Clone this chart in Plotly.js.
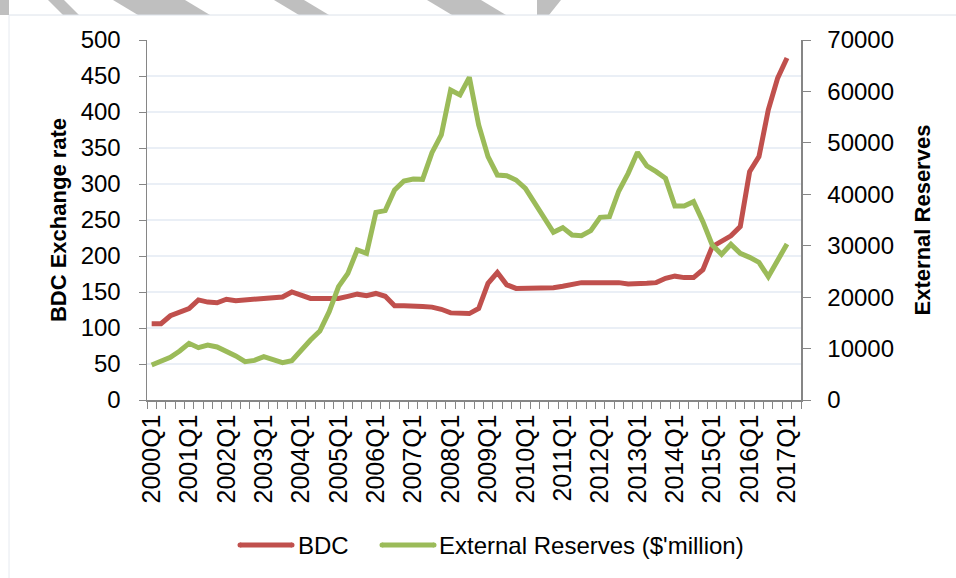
<!DOCTYPE html>
<html>
<head>
<meta charset="utf-8">
<script src="https://cdn.plot.ly/plotly-3.0.1.min.js"></script>
<style>html,body{margin:0;padding:0;background:#fff}#chart{width:956px;height:578px}</style>
</head>
<body>
<div id="chart"></div>
<script>
// ---- data ----
const quarters = [
  "2000Q1","2000Q2","2000Q3","2000Q4","2001Q1","2001Q2","2001Q3","2001Q4",
  "2002Q1","2002Q2","2002Q3","2002Q4","2003Q1","2003Q2","2003Q3","2003Q4",
  "2004Q1","2004Q2","2004Q3","2004Q4","2005Q1","2005Q2","2005Q3","2005Q4",
  "2006Q1","2006Q2","2006Q3","2006Q4","2007Q1","2007Q2","2007Q3","2007Q4",
  "2008Q1","2008Q2","2008Q3","2008Q4","2009Q1","2009Q2","2009Q3","2009Q4",
  "2010Q1","2010Q2","2010Q3","2010Q4","2011Q1","2011Q2","2011Q3","2011Q4",
  "2012Q1","2012Q2","2012Q3","2012Q4","2013Q1","2013Q2","2013Q3","2013Q4",
  "2014Q1","2014Q2","2014Q3","2014Q4","2015Q1","2015Q2","2015Q3","2015Q4",
  "2016Q1","2016Q2","2016Q3","2016Q4","2017Q1"
];
const bdcRate = [
  106,106,117,122,127,139,136,135,140,138,139,141,141,142,143,150,
  145,141,141,141,141,144,147,145,148,144,131,131,131,130,129,126,
  121,120,120,127,162,177,160,155,155,155,155,156,158,160,163,163,
  163,162,163,161,161,162,163,169,172,170,170,181,213,220,228,241,
  317,338,403,447,475
];
const externalReserves = [
  6810,7450,8300,9530,11020,10180,10690,10310,9530,8560,7450,7710,8430,7780,7260,7650,
  9850,11670,13420,17180,22040,24630,29170,28520,36490,36820,40830,42580,42970,42910,48090,51530,
  60280,59310,62740,53500,47320,43750,43620,42780,41160,38240,35320,32600,33510,32080,31950,32930,
  35520,35650,40640,44070,48160,45500,44400,43100,37720,37720,38570,34680,30140,28320,30270,28520,
  27740,26770,23980,27220,30330
];
const seriesNames = ["BDC", "External Reserves ($'million)"];
const seriesColors = ["#C0504D", "#9BBB59"];
const leftTitle = "BDC Exchange rate";
const rightTitle = "External Reserves";

// ---- build ----
const xIdx = quarters.map((q, i) => i);
const tickIdx = xIdx.filter(i => quarters[i].endsWith("Q1"));
const tickTxt = tickIdx.map(i => quarters[i]);

const L = 147, R = 155, T = 40, B = 178, W = 956, H = 578;
const pw = W - L - R, ph = H - T - B;
const px = x => (x - L) / pw;
const py = y => (T + ph - y) / ph;
function poly(pts, color) {
  return {type: 'path', xref: 'paper', yref: 'paper', layer: 'below',
    path: 'M' + pts.map(p => px(p[0]) + ',' + py(p[1])).join('L') + 'Z',
    fillcolor: color, line: {width: 0}};
}
const stripe = '#BFBFBF';
const shapes = [
  poly([[0,0],[9,0],[9,15],[0,15]], stripe),
  poly([[48,0],[64,0],[79,15],[63,15]], stripe),
  poly([[113,0],[185,0],[210,15],[138,15]], stripe),
  poly([[274,0],[304,0],[329,15],[299,15]], stripe),
  poly([[427,0],[481,0],[506,15],[452,15]], stripe),
  poly([[537,0],[561,0],[549,15],[537,15]], stripe),
  {type:'line', xref:'paper', yref:'paper', layer:'below', x0:px(9), x1:px(956), y0:py(15), y1:py(15), line:{color:'#DCE2EA', width:1}},
  {type:'line', xref:'paper', yref:'paper', layer:'below', x0:px(9), x1:px(9), y0:py(15), y1:py(578), line:{color:'#E6EAF0', width:1}}
];

const font = "Liberation Sans, Arial, sans-serif";

// legend (drawn as key lines + text, Excel style long swatches)
const legendY = 545;
const legendItems = [
  {x0: 240, x1: 292, tx: 296},
  {x0: 382, x1: 434, tx: 437}
];
const annotations = [];
legendItems.forEach((it, k) => {
  shapes.push({type: 'line', xref: 'paper', yref: 'paper', x0: px(it.x0), x1: px(it.x1),
    y0: py(legendY), y1: py(legendY), line: {color: seriesColors[k], width: 5}});
  shapes.push({type: 'circle', xref: 'paper', yref: 'paper', fillcolor: seriesColors[k], line: {width: 0},
    x0: px(it.x0 - 2.5), x1: px(it.x0 + 2.5), y0: py(legendY - 2.5), y1: py(legendY + 2.5)});
  shapes.push({type: 'circle', xref: 'paper', yref: 'paper', fillcolor: seriesColors[k], line: {width: 0},
    x0: px(it.x1 - 2.5), x1: px(it.x1 + 2.5), y0: py(legendY - 2.5), y1: py(legendY + 2.5)});
  annotations.push({xref: 'paper', yref: 'paper', x: px(it.tx), y: py(legendY), xanchor: 'left', yanchor: 'middle',
    text: seriesNames[k], showarrow: false, font: {family: font, size: 24, color: '#000'}});
});

const traces = [
  {x: xIdx, y: bdcRate, name: seriesNames[0], type: 'scatter', mode: 'lines',
   line: {color: seriesColors[0], width: 5, shape: 'linear'}, yaxis: 'y'},
  {x: xIdx, y: externalReserves, name: seriesNames[1], type: 'scatter', mode: 'lines',
   line: {color: seriesColors[1], width: 5, shape: 'linear'}, yaxis: 'y2'}
];

const layout = {
  width: W, height: H,
  margin: {l: L, r: R, t: T, b: B, pad: 0},
  paper_bgcolor: '#ffffff', plot_bgcolor: 'rgba(0,0,0,0)',
  font: {family: font, color: '#000', size: 24},
  showlegend: false,
  xaxis: {
    range: [-0.5, 69.5], tickmode: 'array', tickvals: tickIdx, ticktext: tickTxt,
    tickangle: -90, ticks: '', showgrid: false, zeroline: false,
    showline: true, linecolor: '#868686', linewidth: 1.5,
    tickfont: {family: font, size: 25, color: '#000'}, ticklabelstandoff: 3,
    minor: {tickmode: 'linear', tick0: -0.5, dtick: 1, ticks: 'outside', ticklen: 7, tickwidth: 1, tickcolor: '#868686', showgrid: false},
    fixedrange: true
  },
  yaxis: {
    range: [0, 500], dtick: 50, tick0: 0, ticks: 'outside', ticklen: 7, tickcolor: '#868686', tickwidth: 1,
    showline: true, linecolor: '#868686', linewidth: 1.5,
    showgrid: true, gridcolor: '#EAEFF6', gridwidth: 1.5, zeroline: false,
    tickfont: {family: font, size: 24, color: '#000'}, ticklabelstandoff: 13,
    title: {text: leftTitle, font: {family: font, size: 22, color: '#000', weight: 'bold'}, standoff: 8},
    fixedrange: true
  },
  yaxis2: {
    overlaying: 'y', side: 'right', range: [0, 70000], dtick: 10000, tick0: 0, tickformat: 'd',
    ticks: 'outside', ticklen: 8, tickcolor: '#868686', tickwidth: 1,
    showline: true, linecolor: '#868686', linewidth: 1.5,
    showgrid: false, zeroline: false,
    tickfont: {family: font, size: 24, color: '#000'}, ticklabelstandoff: 12,
    title: {text: rightTitle, font: {family: font, size: 22, color: '#000', weight: 'bold'}, standoff: 21},
    fixedrange: true
  },
  shapes: shapes,
  annotations: annotations
};

Plotly.newPlot('chart', traces, layout, {displayModeBar: false, staticPlot: true});
</script>
</body>
</html>
